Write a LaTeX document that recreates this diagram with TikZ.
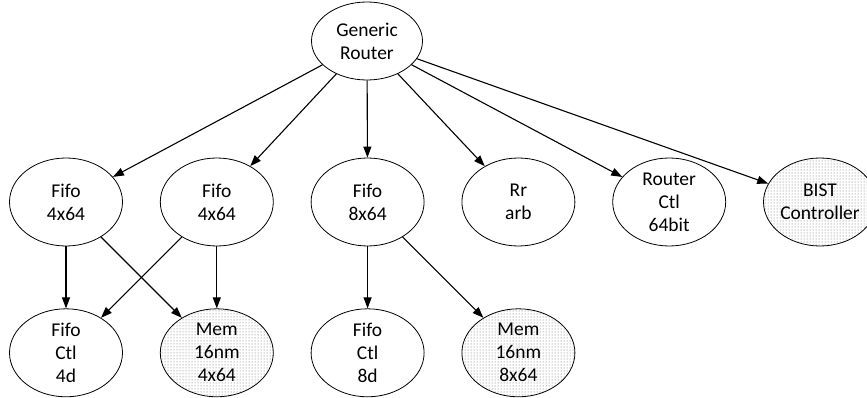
\documentclass[tikz,border=0pt]{standalone}
\usepackage{fontspec}
\setmainfont{Carlito}
\usetikzlibrary{shapes.geometric, arrows.meta, positioning, patterns}

\begin{document}
\begin{tikzpicture}[
    x=1pt, y=-1pt,
    node distance=62pt and 37pt,
    font=\fontsize{19.5}{23}\selectfont,
    % styles
    block/.style={draw, ellipse, align=center, inner sep=0pt, minimum width=113pt, minimum height=88pt, line width=0.8pt},
    lib/.style={block, pattern=dots, pattern color=black!60},
    arrow/.style={-{Triangle[length=11pt, width=8pt]}, line width=1.1pt}
]
    \useasboundingbox (0,0) rectangle (867,398);

    % ============================================================
    % Top: router
    % ============================================================
    \node[block, minimum width=111pt, minimum height=78pt] (router) at (367,41) {Generic\\Router};

    % ============================================================
    % Row 2: sub modules
    % ============================================================
    \node[block] (fifoA) at (66,202) {Fifo\\4x64};
    \node[block, right=of fifoA] (fifoB) {Fifo\\4x64};
    \node[block, right=of fifoB] (fifoC) {Fifo\\8x64};
    \node[block, right=of fifoC] (rrarb) {Rr\\arb};
    \node[block, right=of rrarb] (rtctl) {Router\\Ctl\\64bit};
    \node[lib, right=of rtctl] (bist) {BIST\\Controller};

    % ============================================================
    % Row 3: leaves
    % ============================================================
    \node[block, below=of fifoA] (ctlA) {Fifo\\Ctl\\4d};
    \node[lib, below=of fifoB] (memA) {Mem\\16nm\\4x64};
    \node[block, below=of fifoC] (ctlC) {Fifo\\Ctl\\8d};
    \node[lib, below=of rrarb] (memC) {Mem\\16nm\\8x64};

    % Arrows from router
    \foreach \dst in {fifoA, fifoB, fifoC, rrarb, rtctl, bist}
        \draw[arrow] (router) -- (\dst);

    % Arrows to leaves
    \draw[arrow] (fifoA) -- (ctlA);
    \draw[arrow] (fifoA) -- (memA);
    \draw[arrow] (fifoB) -- (ctlA);
    \draw[arrow] (fifoB) -- (memA);
    \draw[arrow] (fifoC) -- (ctlC);
    \draw[arrow] (fifoC) -- (memC);

\end{tikzpicture}
\end{document}
